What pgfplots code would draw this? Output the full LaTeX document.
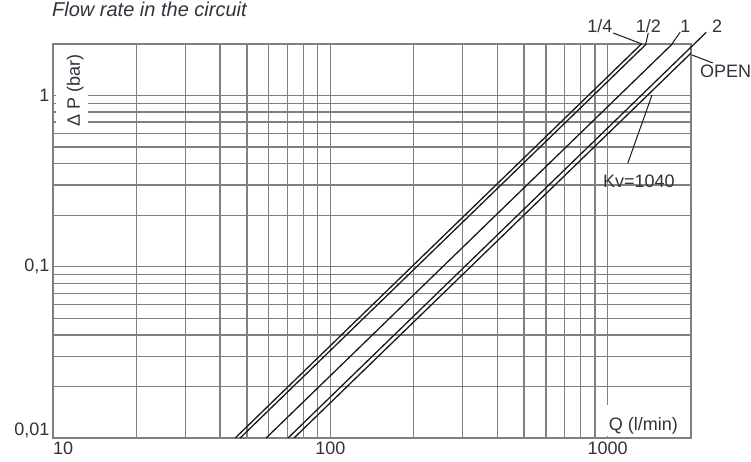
\documentclass[border=0pt]{standalone}
\usepackage{fontspec}
\setmainfont{Liberation Sans}
\usepackage{pgfplots}
\pgfplotsset{compat=1.18}
\definecolor{gridc}{RGB}{128,128,128}
\definecolor{textc}{RGB}{50,50,60}
\definecolor{linec}{RGB}{25,25,25}
\newcommand\lbl{\fontsize{18}{21}\selectfont}
\begin{document}
\begin{tikzpicture}
\path[use as bounding box] (0,0) rectangle (751pt,461pt);
\begin{axis}[
  at={(53pt,23pt)}, anchor=south west,
  scale only axis, width=638pt, height=394pt,
  xmode=log, ymode=log,
  xmin=10, xmax=2000, ymin=0.01, ymax=2,
  xtick={10,100,1000},
  xticklabels={\makebox[0pt][l]{10},100,1000},
  minor xtick={20,30,40,50,60,70,80,90,200,300,400,500,600,700,800,900},
  ytick={0.1,1},
  yticklabels={0{,}1,1},
  minor ytick={0.02,0.03,0.04,0.05,0.06,0.07,0.08,0.09,0.2,0.3,0.4,0.5,0.6,0.7,0.8,0.9},
  extra y ticks={0.01},
  extra y tick labels={0{,}01},
  extra y tick style={yticklabel style={yshift=8pt}},
  grid=both,
  major grid style={draw=gridc, line width=1.4pt},
  minor grid style={draw=gridc, line width=1.4pt},
  axis line style={draw=gridc, line width=1.5pt},
  major tick length=0pt, minor tick length=0pt,
  tick label style={font=\lbl, text=textc},
  /pgf/number format/assume math mode=true,
  clip=false,
]
% white patches behind in-plot labels
\fill[white] (rel axis cs:0.004,0.787) rectangle (rel axis cs:0.0549,0.994);
\fill[white] (rel axis cs:0.862,0.005) rectangle (rel axis cs:0.996,0.084);

\addplot[linec, line width=1.3pt] coordinates {(45.4,0.01) (1324,2)};
\addplot[linec, line width=1.3pt] coordinates {(47.3,0.01) (1380,2)};
\addplot[linec, line width=1.3pt] coordinates {(58.7,0.01) (1712,2)};
\addplot[linec, line width=1.3pt] coordinates {(70.4,0.01) (2270,2.34)};
\addplot[linec, line width=1.3pt] coordinates {(74.0,0.01) (2000,1.77)};

% leaders
\draw[linec, line width=1pt] (rel axis cs:0.923,1.0) -- (rel axis cs:0.878,1.028);
\draw[linec, line width=1pt] (rel axis cs:0.929,1.0) -- (rel axis cs:0.933,1.028);
\draw[linec, line width=1pt] (rel axis cs:0.970,1.0) -- (rel axis cs:0.983,1.030);
\draw[linec, line width=1pt] (rel axis cs:1.0016,0.972) -- (rel axis cs:1.034,0.952);
\draw[linec, line width=1pt] (rel axis cs:0.939,0.871) -- (rel axis cs:0.901,0.698);

% labels
\node[anchor=base, font=\lbl, text=textc, inner sep=0pt] at (rel axis cs:0.857,1.030) {1/4};
\node[anchor=base, font=\lbl, text=textc, inner sep=0pt] at (rel axis cs:0.933,1.030) {1/2};
\node[anchor=base, font=\lbl, text=textc, inner sep=0pt] at (rel axis cs:0.991,1.030) {1};
\node[anchor=base, font=\lbl, text=textc, inner sep=0pt] at (rel axis cs:1.041,1.030) {2};
\node[anchor=base west, font=\lbl, text=textc, inner sep=0pt] at (rel axis cs:1.014,0.914) {OPEN};
\node[anchor=base west, font=\lbl, text=textc, inner sep=0pt] at (rel axis cs:0.862,0.637) {Kv=1040};
\node[anchor=base west, font=\lbl, text=textc, inner sep=0pt] at (rel axis cs:0.871,0.020) {Q (l/min)};
\node[anchor=base west, rotate=90, font=\lbl, text=textc, inner sep=0pt] at (rel axis cs:0.0423,0.789) {Δ P (bar)};
\node[anchor=base west, font=\fontsize{20}{23}\selectfont\itshape, text=textc, inner sep=0pt] at (rel axis cs:-0.0016,1.071) {Flow rate in the circuit};
\end{axis}
\end{tikzpicture}
\end{document}
